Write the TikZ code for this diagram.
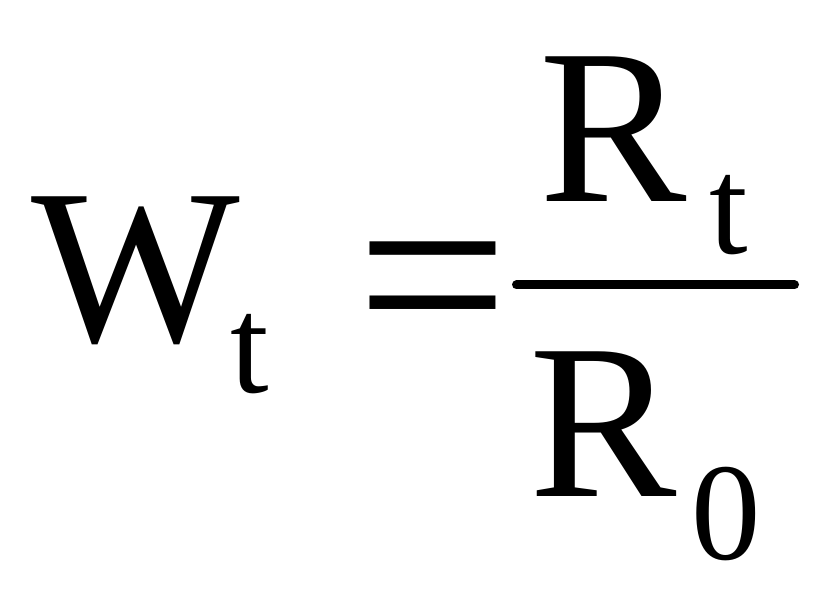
\documentclass[tikz,border=0pt]{standalone}
\usepackage{fontspec}
\setmainfont{Liberation Serif}
\usetikzlibrary{positioning,calc}

\begin{document}
\begin{tikzpicture}[
  letter/.style={inner sep=0pt,anchor=base west,font=\fontsize{62.9pt}{62.9pt}\selectfont},
  index/.style={inner sep=0pt,anchor=base west,font=\fontsize{39.5pt}{39.5pt}\selectfont},
  relsign/.style={inner sep=0pt,anchor=base west,font=\fontsize{77pt}{77pt}\selectfont}]

\useasboundingbox (0,0) rectangle (8.32,6.01);

\coordinate (w)  at (0.31,2.59);
\coordinate (wt) at (2.30,2.08);
\coordinate (eq) at (3.555,2.35);
\coordinate (r1) at (5.39,3.99);
\coordinate (rt) at (7.09,3.47);
\coordinate (r0) at (5.29,1.04);
\coordinate (z0) at (6.91,0.41);
\coordinate (b0) at (5.165,3.16);
\coordinate (b1) at (7.945,3.16);

\node[letter]  (W)   at (w)  {W};
\node[index]   (Wt)  at (wt) {t};
\node[relsign] (Eq)  at (eq) {=};
\node[letter]  (Rt)  at (r1) {R};
\node[index]   (Rtt) at (rt) {t};
\node[letter]  (R0)  at (r0) {R};
\node[index]   (R00) at (z0) {0};

\draw[line width=0.09cm,line cap=round] (b0)--(b1);

\end{tikzpicture}
\end{document}
